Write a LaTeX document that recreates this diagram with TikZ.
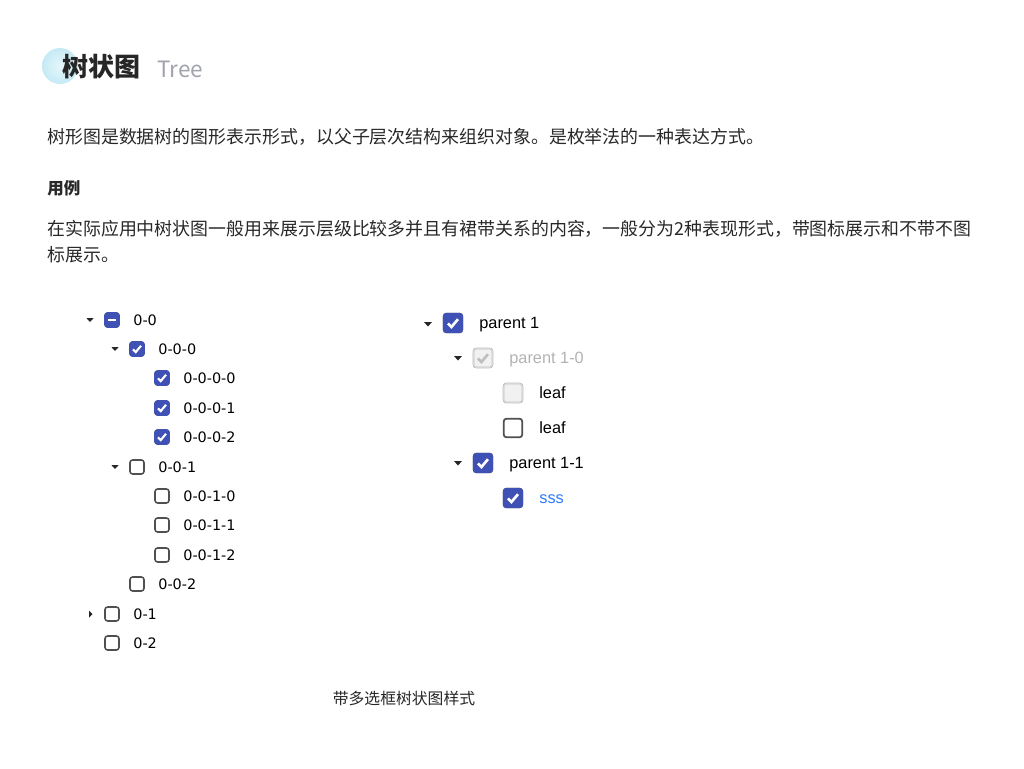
\documentclass[tikz,border=0pt]{standalone}
\usepackage{fontspec}
\setmainfont{Liberation Sans}
\newfontfamily\cjk{Noto Sans CJK SC}
\newfontfamily\treefont{DejaVu Sans}
\usetikzlibrary{calc}

\definecolor{indigo}{RGB}{63,81,181}
\definecolor{boxline}{RGB}{80,80,80}
\definecolor{greyfill}{RGB}{241,241,241}
\definecolor{greyline}{RGB}{214,214,214}
\definecolor{greytick}{RGB}{190,190,190}
\definecolor{greytext}{RGB}{178,178,178}
\definecolor{linkblue}{RGB}{47,123,245}
\definecolor{bodytext}{RGB}{40,40,40}
\definecolor{titlegray}{RGB}{160,162,172}
\definecolor{bubble}{RGB}{196,234,245}

\tikzset{
  cb/.style={draw=boxline, fill=white, rounded corners=1.5pt, line width=0.9pt, inner sep=0pt, minimum size=0.28cm},
  cbbig/.style={cb, minimum size=0.37cm, line width=1pt},
  cbon/.style={draw=indigo, fill=indigo},
  cbgrey/.style={draw=greyline, fill=greyfill},
  tick/.style={white, line width=1.2pt},
  caret/.style={fill=black!85},
  lbl/.style={anchor=base west, inner sep=0pt, font=\treefont\fontsize{8.2}{10}\selectfont},
  lblbig/.style={anchor=base west, inner sep=0pt, font=\fontsize{9.3}{11}\selectfont},
  body/.style={anchor=west, inner sep=0pt, text=bodytext, font=\cjk\fontsize{10.2}{14.7}\selectfont},
}

\begin{document}
\begin{tikzpicture}[x=0.02cm, y=-0.02cm]
    \useasboundingbox (0,0) rectangle (1024,768);

    % heading
    \shade[inner color=bubble!40, outer color=bubble] (60,66) circle (18);
    \node[anchor=west, inner sep=0pt, text=black!85, font=\cjk\bfseries\fontsize{14.8}{17}\selectfont] (title) at (62,67) {树状图};
    \node[anchor=west, inner sep=0pt, text=titlegray, font=\cjk\fontsize{12.8}{15}\selectfont] (titleen) at (157,69) {Tree};

    \node[body] (intro) at (47,137) {树形图是数据树的图形表示形式，以父子层次结构来组织对象。是枚举法的一种表达方式。};
    \node[body, font=\cjk\bfseries\fontsize{9.4}{12}\selectfont] (usage) at (47,188) {用例};
    \node[body] (usetext1) at (47,229) {在实际应用中树状图一般用来展示层级比较多并且有裙带关系的内容，一般分为2种表现形式，带图标展示和不带不图};
    \node[body] (usetext2) at (47,255) {标展示。};

    % left tree
    \foreach \n/\x/\y/\t in {n00/112/320/0-0, n000/137/349/0-0-0, n0000/162/378/0-0-0-0, n0001/162/408/0-0-0-1,
        n0002/162/437/0-0-0-2, n001/137/467/0-0-1, n0010/162/496/0-0-1-0, n0011/162/525/0-0-1-1,
        n0012/162/555/0-0-1-2, n002/137/584/0-0-2, n01/112/614/0-1, n02/112/643/0-2}{
        \node[cb] (\n) at (\x,\y) {};
        \node[lbl] (\n-t) at (\x+21,\y+5.3) {\t};
    }
    \foreach \n in {n00,n000,n0000,n0001,n0002}
        \node[cb, cbon] at (\n) {};
    \draw[tick] ($(n00.center)+(-4,0)$) -- ++(8,0);
    \foreach \n in {n000,n0000,n0001,n0002}
        \draw[tick] ($(\n.center)+(-4,0.3)$) -- ++(2.7,2.8) -- ++(5.3,-6.3);

    \foreach \x/\y in {90/320, 115/349, 115/467}
        \fill[caret] (\x-3.5,\y-1.8) -- (\x+3.5,\y-1.8) -- (\x,\y+2) -- cycle;
    \fill[caret] (89,610.5) -- (92.5,614) -- (89,617.5) -- cycle;

    % right tree
    \foreach \n/\x/\y/\t/\c in {p1/453/323/parent 1/black, p10/483/358/parent 1-0/greytext, lf1/513/393/leaf/black,
        lf2/513/428/leaf/black, p11/483/463/parent 1-1/black, s/513/498/sss/linkblue}{
        \node[cbbig] (\n) at (\x,\y) {};
        \node[lblbig, text=\c] (\n-t) at (\x+26,\y+5.9) {\t};
    }
    \foreach \n in {p1,p11,s}
        \node[cbbig, cbon] at (\n) {};
    \foreach \n in {p10,lf1}
        \node[cbbig, cbgrey] at (\n) {};
    \foreach \n in {p1,p11,s}
        \draw[tick, line width=1.5pt] ($(\n.center)+(-5,0.4)$) -- ++(3.4,3.6) -- ++(6.6,-7.8);
    \draw[tick, draw=greytick, line width=1.5pt] ($(p10.center)+(-5,0.4)$) -- ++(3.4,3.6) -- ++(6.6,-7.8);

    \foreach \x/\y in {428/324, 458/358, 458/463}
        \fill[caret] (\x-4,\y-2) -- (\x+4,\y-2) -- (\x,\y+2.5) -- cycle;

    % caption
    \node[inner sep=0pt, text=bodytext, font=\cjk\fontsize{9}{11}\selectfont] (caption) at (404,698) {带多选框树状图样式};
\end{tikzpicture}
\end{document}
